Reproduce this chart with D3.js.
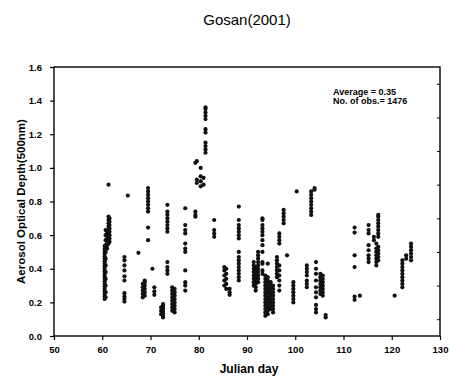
<!DOCTYPE html>
<html>
<head>
<meta charset="utf-8">
<script src="https://cdn.jsdelivr.net/npm/d3@7"></script>
<style>
  body { margin: 0; background: #fff; }
  text { font-family: "Liberation Sans", Arial, sans-serif; }
</style>
</head>
<body>
<script>
const width = 450;
const height = 378;

// observation days (Julian day) and the AOD values measured at each
const julianDay = [60.5, 60.7, 61.0, 61.3, 61.5, 64.6, 65.3, 67.5, 68.4, 68.8,
  69.5, 70.4, 70.8, 72.2, 72.6, 73.5, 74.5, 75.0, 77.2, 79.3,
  79.6, 80.4, 81.0, 81.4, 83.2, 85.3, 85.7, 86.4, 88.3, 91.4,
  91.8, 92.3, 93.2, 93.8, 94.3, 94.9, 95.4, 96.2, 96.7, 97.6,
  98.3, 99.6, 100.3, 102.4, 103.3, 104.0, 104.3, 105.2, 105.7, 106.3,
  112.3, 113.4, 115.2, 116.3, 116.8, 117.2, 120.6, 122.2, 123.0, 124.0];
const aod500 = [
  [0.22, 0.235, 0.25, 0.265, 0.28, 0.295, 0.31, 0.325, 0.34, 0.355, 0.37, 0.385, 0.40, 0.415, 0.43, 0.445, 0.46, 0.475, 0.49, 0.505, 0.52, 0.535],
  [0.23, 0.26, 0.30, 0.34, 0.38, 0.42, 0.46, 0.50, 0.54, 0.57, 0.60, 0.63],
  [0.52, 0.54, 0.56, 0.58, 0.60, 0.62],
  [0.55, 0.57, 0.59, 0.61, 0.63, 0.65, 0.67, 0.69, 0.71, 0.90],
  [0.56, 0.58, 0.60, 0.62, 0.64, 0.66, 0.68, 0.70],
  [0.205, 0.22, 0.235, 0.255, 0.33, 0.355, 0.39, 0.42, 0.45, 0.47],
  [0.835],
  [0.495],
  [0.23, 0.25, 0.27, 0.29, 0.31],
  [0.24, 0.26, 0.28, 0.30, 0.32, 0.33],
  [0.57, 0.645, 0.74, 0.76, 0.78, 0.80, 0.82, 0.84, 0.86, 0.88],
  [0.40],
  [0.245, 0.265, 0.29],
  [0.13, 0.15, 0.17],
  [0.11, 0.12, 0.135, 0.15, 0.165, 0.18, 0.19],
  [0.62, 0.64, 0.66, 0.68, 0.70, 0.72, 0.74, 0.78, 0.37, 0.39, 0.41, 0.44],
  [0.15, 0.17, 0.19, 0.21, 0.23, 0.25, 0.27, 0.29],
  [0.14, 0.16, 0.18, 0.20, 0.22, 0.24, 0.26, 0.28],
  [0.27, 0.30, 0.32, 0.39, 0.50, 0.52, 0.55, 0.61, 0.63, 0.66, 0.76],
  [1.03, 0.71, 0.72, 0.74],
  [0.91, 0.93, 1.04],
  [0.89, 0.92, 0.95, 1.00],
  [0.90, 0.94],
  [1.09, 1.11, 1.13, 1.15, 1.21, 1.23, 1.29, 1.31, 1.33, 1.35, 1.36],
  [0.59, 0.61, 0.63, 0.69],
  [0.30, 0.33, 0.36, 0.39, 0.41],
  [0.28, 0.31, 0.34, 0.37, 0.40],
  [0.245, 0.26, 0.28],
  [0.33, 0.35, 0.37, 0.39, 0.41, 0.43, 0.45, 0.47, 0.50, 0.58, 0.60, 0.62, 0.64, 0.66, 0.69, 0.77],
  [0.30, 0.32, 0.34, 0.36, 0.38, 0.40, 0.42, 0.44],
  [0.27, 0.29, 0.31, 0.33, 0.35, 0.37, 0.39, 0.41],
  [0.32, 0.34, 0.36, 0.38, 0.40, 0.42, 0.44, 0.46, 0.48, 0.50],
  [0.50, 0.54, 0.57, 0.60, 0.62, 0.64, 0.66, 0.69, 0.70, 0.37, 0.39, 0.43, 0.44],
  [0.12, 0.14, 0.16, 0.18, 0.20, 0.22, 0.24, 0.26, 0.28, 0.30, 0.32, 0.34, 0.36],
  [0.13, 0.15, 0.17, 0.19, 0.21, 0.23, 0.25, 0.27, 0.29, 0.31, 0.33, 0.35, 0.43],
  [0.16, 0.18, 0.20, 0.22, 0.24, 0.26, 0.28, 0.30, 0.32],
  [0.14, 0.16, 0.18, 0.20, 0.22, 0.24, 0.26, 0.28, 0.30],
  [0.35, 0.37, 0.39, 0.41, 0.43, 0.45, 0.47],
  [0.27, 0.30, 0.33, 0.36, 0.39, 0.42, 0.55, 0.57, 0.59, 0.61],
  [0.67, 0.69, 0.71, 0.73, 0.75],
  [0.48],
  [0.20, 0.22, 0.24, 0.26, 0.28, 0.30, 0.32],
  [0.86],
  [0.29, 0.31, 0.33, 0.36, 0.38, 0.40, 0.42],
  [0.72, 0.74, 0.76, 0.78, 0.80, 0.82, 0.84, 0.86],
  [0.87, 0.88],
  [0.23, 0.26, 0.29, 0.33, 0.37, 0.40, 0.44, 0.14, 0.16, 0.185],
  [0.25, 0.27, 0.29, 0.31, 0.33, 0.35, 0.37],
  [0.24, 0.26, 0.28, 0.30, 0.32, 0.34, 0.36],
  [0.11, 0.125],
  [0.215, 0.235, 0.41, 0.48, 0.615, 0.645],
  [0.24],
  [0.44, 0.46, 0.48, 0.51, 0.54, 0.61, 0.63, 0.66],
  [0.57, 0.59],
  [0.42, 0.44, 0.46, 0.48, 0.50, 0.52, 0.55],
  [0.45, 0.47, 0.49, 0.51, 0.53, 0.59, 0.61, 0.63, 0.65, 0.67, 0.69, 0.71, 0.72],
  [0.24],
  [0.29, 0.31, 0.33, 0.35, 0.37, 0.39, 0.41, 0.43, 0.45],
  [0.46, 0.48],
  [0.45, 0.47, 0.49, 0.51, 0.53, 0.55]
];

const xTicks = [50, 60, 70, 80, 90, 100, 110, 120, 130];
const yTicks = [0, 0.2, 0.4, 0.6, 0.8, 1.0, 1.2, 1.4, 1.6];
const statLines = ["Average = 0.35", "No. of obs.= 1476"];

const points = [];
julianDay.forEach((d, i) => aod500[i].forEach((v) => points.push({ day: d, aod: v })));

const margin = { top: 67, right: 10, bottom: 42, left: 54 };

const svg = d3
  .select("body")
  .append("svg")
  .attr("width", width)
  .attr("height", height);

const x = d3.scaleLinear().domain([50, 130]).range([margin.left, width - margin.right]);
const y = d3.scaleLinear().domain([0, 1.6]).range([height - margin.bottom, margin.top]);

// title
svg
  .append("text")
  .attr("x", 247)
  .attr("y", 25)
  .attr("text-anchor", "middle")
  .attr("font-size", 15)
  .text("Gosan(2001)");

// axes
const xAxis = svg
  .append("g")
  .attr("transform", `translate(0,${y(0)})`)
  .call(d3.axisBottom(x).tickValues(xTicks).tickSize(4).tickPadding(6).tickFormat(d3.format("d")));
const yAxis = svg
  .append("g")
  .attr("transform", `translate(${x(50)},0)`)
  .call(d3.axisLeft(y).tickValues(yTicks).tickSize(4).tickPadding(8).tickFormat(d3.format(".1f")));
// inner ticks on the right edge
svg
  .append("g")
  .attr("transform", `translate(${x(130)},0)`)
  .call(d3.axisLeft(y).tickValues(d3.range(0.1, 1.6, 0.2)).tickSize(3).tickFormat(""));

[xAxis, yAxis].forEach((g) => {
  g.selectAll("text").attr("font-size", 9.5).attr("font-weight", "bold").attr("fill", "#000");
  g.selectAll("line").attr("stroke", "#000").attr("stroke-width", 1.2);
});
svg.selectAll(".domain").remove();

// plot frame
svg
  .append("rect")
  .attr("x", x(50))
  .attr("y", y(1.6))
  .attr("width", x(130) - x(50))
  .attr("height", y(0) - y(1.6))
  .attr("fill", "none")
  .attr("stroke", "#000")
  .attr("stroke-width", 1.4);

// observations
svg
  .append("g")
  .selectAll("circle")
  .data(points)
  .enter()
  .append("circle")
  .attr("cx", (d) => x(d.day))
  .attr("cy", (d) => y(d.aod))
  .attr("r", 2.1)
  .attr("fill", "#111");

// statistics box text
svg
  .append("g")
  .selectAll("text")
  .data(statLines)
  .enter()
  .append("text")
  .attr("x", 333)
  .attr("y", (d, i) => 95 + i * 8.5)
  .attr("font-size", 9)
  .attr("font-weight", "bold")
  .text((d) => d);

// axis titles
svg
  .append("text")
  .attr("x", 249)
  .attr("y", 373)
  .attr("text-anchor", "middle")
  .attr("font-size", 12)
  .attr("font-weight", "bold")
  .text("Julian day");

svg
  .append("text")
  .attr("transform", `translate(25,${(y(0) + y(1.6)) / 2}) rotate(-90)`)
  .attr("text-anchor", "middle")
  .attr("font-size", 11.5)
  .attr("font-weight", "bold")
  .text("Aerosol Optical Depth(500nm)");
</script>
</body>
</html>
